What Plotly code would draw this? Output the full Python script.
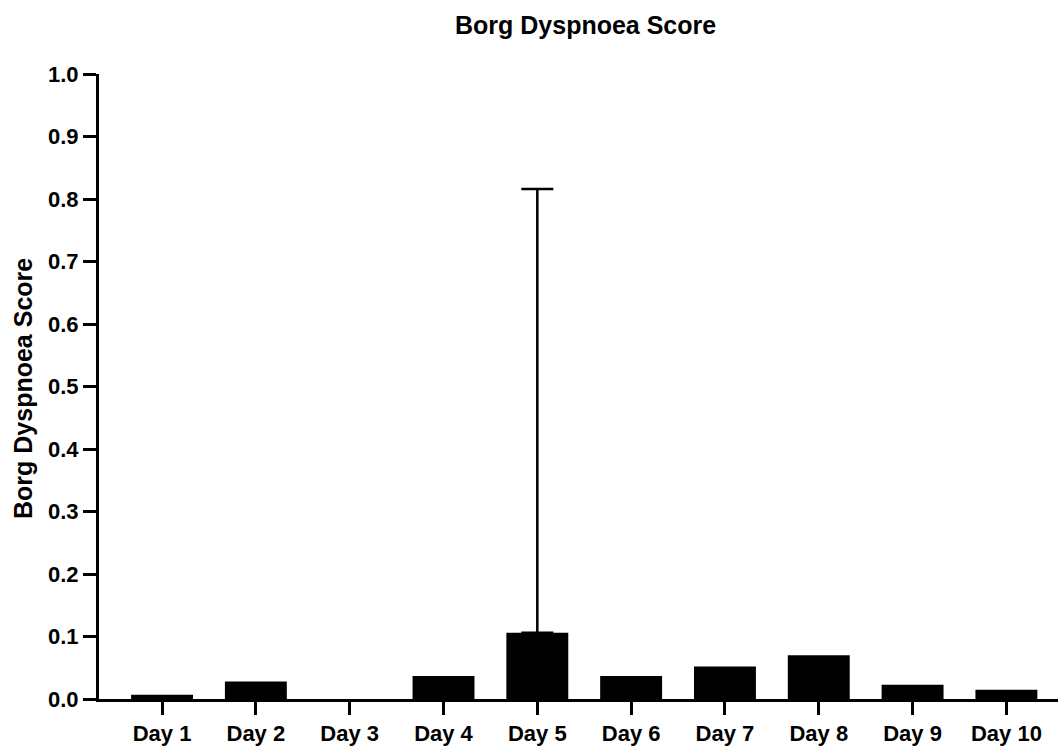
import plotly.graph_objects as go

days = ["Day 1", "Day 2", "Day 3", "Day 4", "Day 5",
        "Day 6", "Day 7", "Day 8", "Day 9", "Day 10"]
mean_score = [0.007, 0.028, 0.0, 0.037, 0.106, 0.037, 0.052, 0.070, 0.023, 0.015]
# only Day 5 has a visible (upper) error bar
sd_upper = [None, None, None, None, 0.71, None, None, None, None, None]
y_ticks = [0.0, 0.1, 0.2, 0.3, 0.4, 0.5, 0.6, 0.7, 0.8, 0.9, 1.0]

FONT = "Liberation Sans, Arial, sans-serif"

fig = go.Figure()

fig.add_trace(go.Bar(
    x=days,
    y=mean_score,
    width=0.66,
    marker=dict(color="black", line=dict(width=0)),
    showlegend=False,
))

# error bars drawn separately so that empty ones leave no cap
err_idx = [i for i, e in enumerate(sd_upper) if e is not None]
fig.add_trace(go.Scatter(
    x=[days[i] for i in err_idx],
    y=[mean_score[i] for i in err_idx],
    mode="markers",
    marker=dict(size=1, opacity=0),
    error_y=dict(
        type="data",
        symmetric=False,
        array=[sd_upper[i] for i in err_idx],
        color="black",
        thickness=2.5,
        width=16,
    ),
    showlegend=False,
    hoverinfo="skip",
))

fig.update_xaxes(
    range=[-0.672, 9.55],
    showline=True, linewidth=3, linecolor="black",
    ticks="outside", ticklen=13, tickwidth=3, tickcolor="black",
    tickfont=dict(family=FONT, size=22, color="black", weight="bold"),
    showgrid=False, zeroline=False,
)
fig.update_yaxes(
    range=[0, 1.0],
    tickvals=y_ticks,
    tickformat=".1f",
    showline=True, linewidth=3, linecolor="black",
    ticks="outside", ticklen=13, tickwidth=3, tickcolor="black",
    tickfont=dict(family=FONT, size=22, color="black", weight="bold"),
    showgrid=False, zeroline=False,
)

fig.update_layout(
    width=1058, height=746,
    margin=dict(l=99, r=0, t=74, b=45),
    plot_bgcolor="white", paper_bgcolor="white",
    annotations=[
        dict(text="Borg Dyspnoea Score", xref="paper", yref="paper",
             x=(585 - 99) / 959, y=1 + (74 - 25) / 627, xanchor="center", yanchor="middle",
             showarrow=False, font=dict(family=FONT, size=25, color="black", weight="bold")),
        dict(text="Borg Dyspnoea Score", xref="paper", yref="paper",
             x=-(99 - 23) / 959, y=(701 - 390) / 627, xanchor="center", yanchor="middle",
             textangle=-90, showarrow=False,
             font=dict(family=FONT, size=25, color="black", weight="bold")),
    ],
)

fig.write_html("out.html", config={"displayModeBar": False},
               post_script="document.body.style.margin='0';")
